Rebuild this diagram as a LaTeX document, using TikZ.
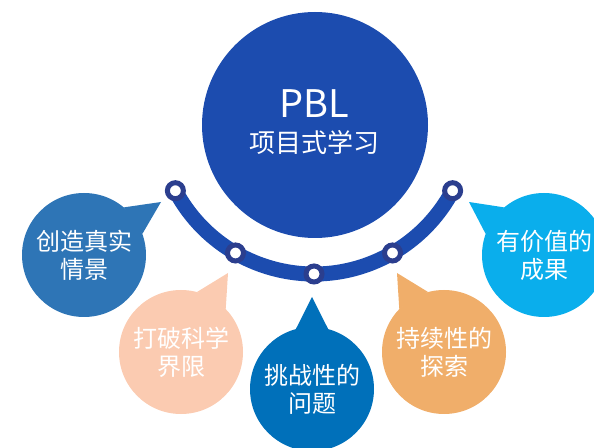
\documentclass[tikz,border=0pt]{standalone}
\usepackage{fontspec}
\setmainfont{Noto Sans CJK SC}
\usetikzlibrary{positioning}
\definecolor{pblblue}{HTML}{1C4CAF}
\definecolor{ringnavy}{HTML}{2B3E8E}
\definecolor{sceneblue}{HTML}{2E75B6}
\definecolor{breakpeach}{HTML}{FBCBB1}
\definecolor{problemblue}{HTML}{0070BA}
\definecolor{explorange}{HTML}{F0AE6A}
\definecolor{resultcyan}{HTML}{0AAEEC}

\begin{document}
\begin{tikzpicture}[x=1pt,y=1pt,
  bubble/.style={circle,minimum size=124pt,inner sep=0pt,text=white,align=center,
    font=\fontsize{24}{28}\selectfont},
  ringdot/.style={circle,draw=ringnavy,line width=5pt,fill=white,minimum size=16pt,inner sep=0pt}]
\useasboundingbox (0,0) rectangle (594,447);

\node[circle,fill=pblblue,minimum size=226pt,inner sep=0pt] (hubcircle) at (315,322) {};
\node[text=white,inner sep=0pt,font=\fontsize{38}{40}\selectfont] (pbltitle) at (314,343) {PBL};
\node[text=white,inner sep=0pt,font=\fontsize{26}{28}\selectfont] (pblsub) at (314,304) {项目式学习};

\coordinate (hub) at (314,330);
\draw[pblblue,line width=15pt] (hub) ++(208:157) arc[start angle=208,end angle=332,radius=157];
\foreach \a/\n in {208/1,240/2,270/3,300/4,332/5}
  \path (hub) ++(\a:157) node[ringdot] (ring\n) {};

\node[bubble,fill=sceneblue] (scene) at (84,192) {创造真实\\情景};
\coordinate (scenetip) at (161,245);
\fill[sceneblue] (scene.50) -- (scenetip) -- (scene.20) -- cycle;

\node[bubble,fill=breakpeach] (break) at (181,95) {打破科学\\界限};
\coordinate (breaktip) at (228,174);
\fill[breakpeach] (break.75) -- (breaktip) -- (break.44) -- cycle;

\node[bubble,fill=problemblue] (problem) at (312,58) {挑战性的\\问题};
\coordinate (problemtip) at (312,150);
\fill[problemblue] (problem.105) -- (problemtip) -- (problem.75) -- cycle;

\node[bubble,fill=explorange] (explore) at (444,95) {持续性的\\探索};
\coordinate (exploretip) at (397,174);
\fill[explorange] (explore.105) -- (exploretip) -- (explore.136) -- cycle;

\node[bubble,fill=resultcyan] (result) at (544,192) {有价值的\\成果};
\coordinate (resulttip) at (469,245);
\fill[resultcyan] (result.130) -- (resulttip) -- (result.160) -- cycle;
\end{tikzpicture}
\end{document}
